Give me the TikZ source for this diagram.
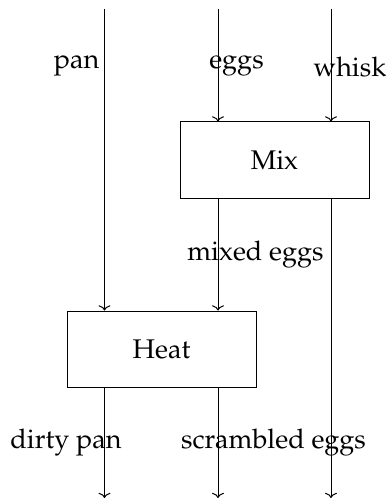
\documentclass[tikz,border=0pt]{standalone}
\usepackage[T1]{fontenc}
\usepackage{mathpazo}
\usetikzlibrary{arrows.meta}
\begin{document}
\begin{tikzpicture}[x=0.5pt,y=-0.5pt,
  font=\fontsize{13.5}{16}\selectfont,
  wire/.style={line width=0.5pt,-{To[length=2.6pt,width=6pt]}},
  procbox/.style={draw,line width=0.5pt,rectangle,minimum width=94.5pt,minimum height=38pt,inner sep=0pt},
  wirelabel/.style={inner sep=0pt}]
\useasboundingbox (0,0) rectangle (386,502);

% process boxes
\node[procbox] (mix)  at (274.5,160) {Mix};
\node[procbox] (heat) at (161.5,349) {Heat};

% free ends of the wires
\coordinate (panin)   at (104.5,9);
\coordinate (eggsin)  at (218,9);
\coordinate (whiskin) at (331,9);
\coordinate (panout)   at (104.5,498);
\coordinate (eggsout)  at (218,498);
\coordinate (whiskout) at (331,498);

% wires
\draw[wire] (panin) -- (panin |- heat.north);
\draw[wire] (eggsin) -- (eggsin |- mix.north);
\draw[wire] (whiskin) -- (whiskin |- mix.north);
\draw[wire] (eggsin |- mix.south) -- (eggsin |- heat.north);
\draw[wire] (whiskin |- mix.south) -- (whiskout);
\draw[wire] (panin |- heat.south) -- (panout);
\draw[wire] (eggsin |- heat.south) -- (eggsout);

% wire labels
\node[wirelabel] (lpan)   at (76.5,66)  {pan};
\node[wirelabel] (leggs)  at (236.5,66) {eggs};
\node[wirelabel] (lwhisk) at (350,67)   {whisk};
\node[wirelabel] (lmixed) at (255.5,255) {mixed eggs};
\node[wirelabel] (ldirty) at (66,443)   {dirty pan};
\node[wirelabel] (lscram) at (273.5,443) {scrambled eggs};
\end{tikzpicture}
\end{document}
